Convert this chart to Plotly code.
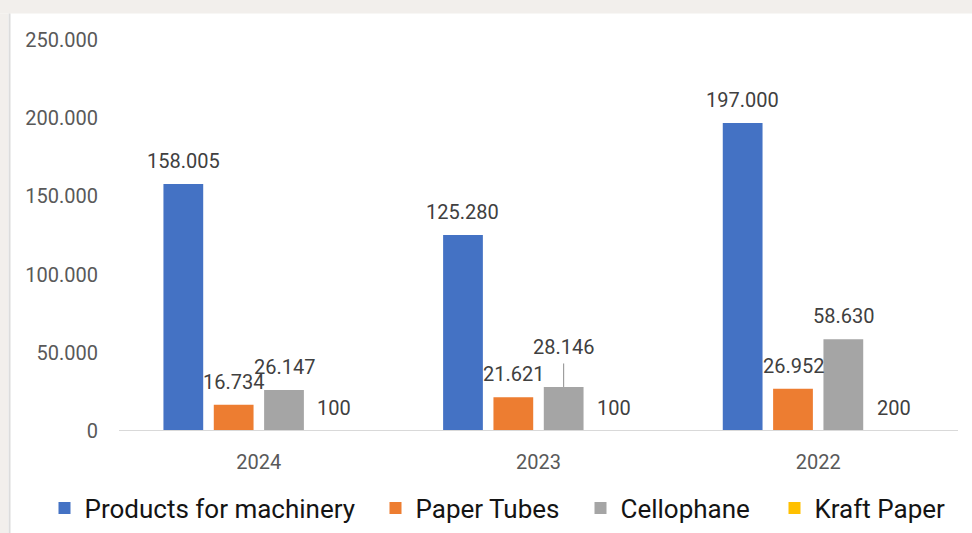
import plotly.graph_objects as go

# Categories and series values
years = ["2024", "2023", "2022"]
series_names = ["Products for machinery", "Paper Tubes", "Cellophane", "Kraft Paper"]
machinery = [158005, 125280, 197000]
paper_tubes = [16734, 21621, 26952]
cellophane = [26147, 28146, 58630]
kraft_paper = [100, 100, 200]
y_ticks = [0, 50000, 100000, 150000, 200000, 250000]

colors = ["#4472C4", "#ED7D31", "#A5A5A5", "#FFC000"]
series_values = [machinery, paper_tubes, cellophane, kraft_paper]

BARGAP = 0.28
BARGROUPGAP = 0.21
FONT = "Roboto"

# canvas and plot-area geometry (pixels)
W, H = 972, 533
L, R, T, B = 119, 14, 40, 102
PW, PH = W - L - R, H - T - B


def px_x(p):
    return (p - L) / PW


def px_y(p):
    return (H - B - p) / PH


def fmt(v):
    # thousands separated with dots
    return f"{v:,}".replace(",", ".")


# each series gets its own legend box so the entries can be spaced freely
legend_ids = ["legend", "legend2", "legend3", "legend4"]
legend_centers = [64, 395, 600, 794]

fig = go.Figure()
for name, vals, col, lid in zip(series_names, series_values, colors, legend_ids):
    fig.add_trace(go.Bar(x=years, y=vals, name=name, marker_color=col,
                         marker_line_width=0, legend=lid))

# value labels above each bar
slot = (1 - BARGAP) / len(series_values)
annotations = []
for si, vals in enumerate(series_values):
    offset = (si - (len(series_values) - 1) / 2) * slot
    for ci, v in enumerate(vals):
        ann = dict(x=ci + offset, y=v, xref="x", yref="y", text=fmt(v),
                   font=dict(family=FONT, size=20, color="#404040"))
        if si == 2 and ci == 1:
            # label lifted off the bar with a leader line
            ann.update(showarrow=True, arrowhead=0, arrowwidth=1,
                       arrowcolor="#8c8c8c", ax=0, ay=-40, borderpad=4)
        else:
            ann.update(showarrow=False, yanchor="middle", yshift=23)
        annotations.append(ann)

shapes = [
    # baseline along the category axis, on top of the bars
    dict(type="line", xref="paper", yref="y", x0=0, x1=1, y0=0, y1=0,
         line=dict(color="#D9D9D9", width=2), layer="above"),
    # framing bands around the chart panel
    dict(type="rect", xref="paper", yref="paper", x0=px_x(-5), x1=px_x(980),
         y0=px_y(13.5), y1=px_y(-5), fillcolor="#F2EFEC", line_width=0),
    dict(type="rect", xref="paper", yref="paper", x0=px_x(-5), x1=px_x(8),
         y0=px_y(540), y1=px_y(13.5), fillcolor="#F2EFEC", line_width=0),
    dict(type="line", xref="paper", yref="paper", x0=px_x(9.5), x1=px_x(9.5),
         y0=px_y(540), y1=px_y(13.5), line=dict(color="#DCDCDC", width=2)),
]

layout_legends = {}
for lid, cx in zip(legend_ids, legend_centers):
    layout_legends[lid] = dict(
        orientation="h", x=px_x(cx - 19.5), xanchor="left",
        y=px_y(508), yanchor="middle",
        font=dict(family=FONT, size=26, color="#141414"),
        itemwidth=30, bgcolor="rgba(0,0,0,0)")

fig.update_layout(
    width=W, height=H,
    margin=dict(l=L, r=R, t=T, b=B, autoexpand=False),
    paper_bgcolor="white", plot_bgcolor="white",
    separators=",.",
    barmode="group", bargap=BARGAP, bargroupgap=BARGROUPGAP,
    font=dict(family=FONT, color="#595959"),
    showlegend=True,
    xaxis=dict(showline=False, showgrid=False, ticks="", ticklabelstandoff=17,
               tickfont=dict(size=20, color="#595959")),
    yaxis=dict(range=[0, 250000], tickvals=y_ticks, tickformat=",d",
               showgrid=False, zeroline=False, showline=False, ticks="",
               ticklabelstandoff=20,
               tickfont=dict(size=20, color="#595959")),
    annotations=annotations,
    shapes=shapes,
    **layout_legends,
)

fig.write_html("out.html")
